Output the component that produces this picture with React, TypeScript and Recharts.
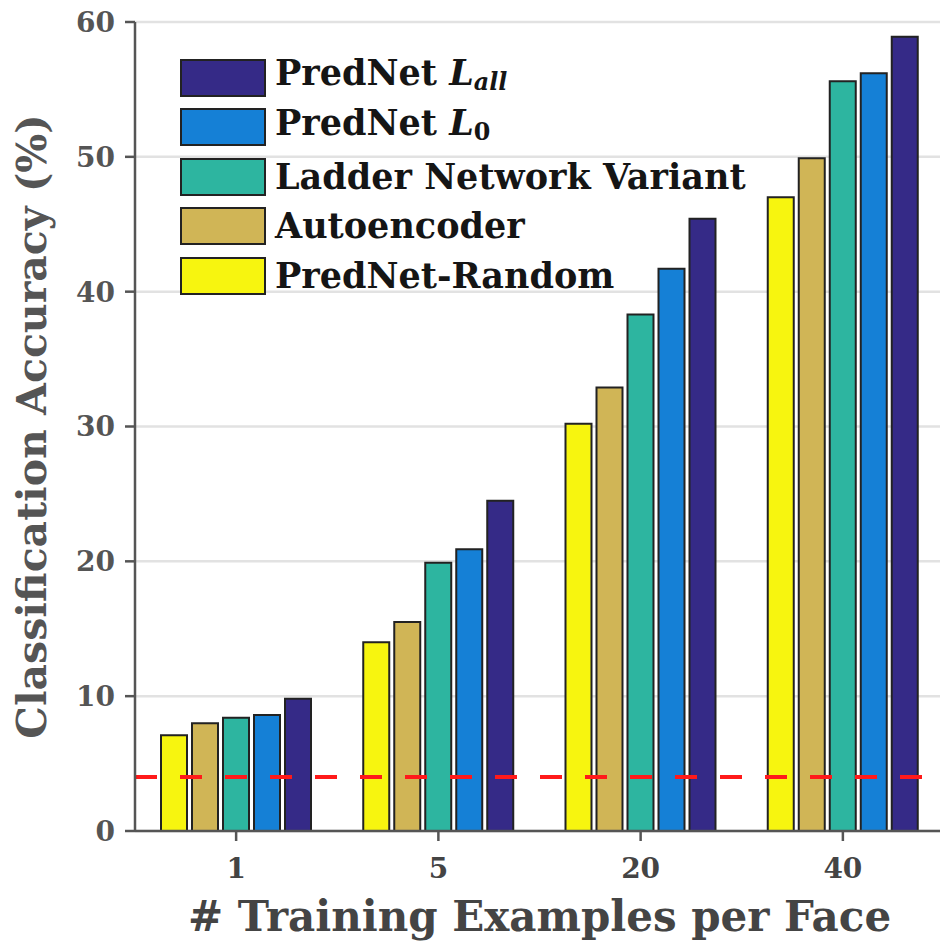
import React from 'react';
import { BarChart, Bar, XAxis, YAxis, CartesianGrid, ReferenceLine, Legend, Label } from 'recharts';

const categories = ['1', '5', '20', '40'];
const predNetRandom = [7.1, 14.0, 30.2, 47.0];
const autoencoder = [8.0, 15.5, 32.9, 49.9];
const ladderVariant = [8.4, 19.9, 38.3, 55.6];
const predNetL0 = [8.6, 20.9, 41.7, 56.2];
const predNetLall = [9.8, 24.5, 45.4, 58.9];
const chanceLevel = 4;
const yTicks = [0, 10, 20, 30, 40, 50, 60];

const data = categories.map((c, i) => ({
  cat: c,
  random: predNetRandom[i],
  auto: autoencoder[i],
  ladder: ladderVariant[i],
  l0: predNetL0[i],
  lall: predNetLall[i],
}));

const COLORS = {
  lall: '#352a87',
  l0: '#1580d6',
  ladder: '#2db5a0',
  auto: '#d0b556',
  random: '#f7f50f',
};

const FONT = '"DejaVu Serif", "Liberation Serif", serif';

const legendItems: { key: keyof typeof COLORS; label: React.ReactNode }[] = [
  { key: 'lall', label: <>PredNet <i>L</i><sub style={{ fontStyle: 'italic', fontSize: '0.68em', verticalAlign: '-0.2em' }}>all</sub></> },
  { key: 'l0', label: <>PredNet <i>L</i><sub style={{ fontSize: '0.68em', verticalAlign: '-0.2em' }}>0</sub></> },
  { key: 'ladder', label: <>Ladder Network Variant</> },
  { key: 'auto', label: <>Autoencoder</> },
  { key: 'random', label: <>PredNet-Random</> },
];

const LegendContent = () => (
  <div style={{ fontFamily: FONT, fontWeight: 'bold', fontSize: 35, color: '#151515' }}>
    {legendItems.map((it) => (
      <div key={it.key} style={{ display: 'flex', alignItems: 'center', height: 49.5 }}>
        <div
          style={{
            width: 82,
            height: 34,
            background: COLORS[it.key],
            border: '2px solid #222',
            marginRight: 9,
            flex: 'none',
          }}
        />
        <span style={{ lineHeight: '40px', whiteSpace: 'nowrap' }}>{it.label}</span>
      </div>
    ))}
  </div>
);

export default function App() {
  return (
    <div style={{ position: 'absolute', left: 0, top: 0, width: 940, height: 941, overflow: 'hidden', background: '#fff' }}>
      <BarChart
        width={944}
        height={941}
        data={data}
        margin={{ top: 22, right: 0, bottom: 0, left: 0 }}
        barSize={26}
        barGap={5}
      >
        <CartesianGrid horizontal vertical={false} stroke="#e2e2e2" strokeWidth={2.5} />
        <XAxis
          dataKey="cat"
          height={110}
          axisLine={{ stroke: '#555', strokeWidth: 2.5 }}
          tickLine={{ stroke: '#555', strokeWidth: 2.5 }}
          tickSize={10}
          tickMargin={17}
          tick={{ fontFamily: FONT, fontWeight: 'bold', fontSize: 28, fill: '#444' }}
        >
          <Label
            value="# Training Examples per Face"
            position="insideBottom"
            offset={10}
            style={{ fontFamily: FONT, fontWeight: 'bold', fontSize: 42, fill: '#444' }}
          />
        </XAxis>
        <YAxis
          width={135}
          domain={[0, 60]}
          ticks={yTicks}
          interval={0}
          axisLine={{ stroke: '#555', strokeWidth: 2.5 }}
          tickLine={{ stroke: '#555', strokeWidth: 2.5 }}
          tickSize={10}
          tickMargin={10}
          tick={{ fontFamily: FONT, fontWeight: 'bold', fontSize: 28, fill: '#555' }}
        >
          <Label
            value="Classification Accuracy (%)"
            angle={-90}
            position="insideLeft"
            offset={31}
            style={{ textAnchor: 'middle', fontFamily: FONT, fontWeight: 'bold', fontSize: 41, fill: '#555' }}
          />
        </YAxis>
        <Legend
          layout="horizontal"
          verticalAlign="middle"
          align="center"
          content={<LegendContent />}
          wrapperStyle={{ position: 'absolute', left: 180, top: 53, width: 'auto', height: 'auto' }}
        />
        <Bar dataKey="random" fill={COLORS.random} stroke="#222" strokeWidth={2} isAnimationActive={false} />
        <Bar dataKey="auto" fill={COLORS.auto} stroke="#222" strokeWidth={2} isAnimationActive={false} />
        <Bar dataKey="ladder" fill={COLORS.ladder} stroke="#222" strokeWidth={2} isAnimationActive={false} />
        <Bar dataKey="l0" fill={COLORS.l0} stroke="#222" strokeWidth={2} isAnimationActive={false} />
        <Bar dataKey="lall" fill={COLORS.lall} stroke="#222" strokeWidth={2} isAnimationActive={false} />
        <ReferenceLine y={chanceLevel} stroke="#ff1a1a" strokeWidth={4} strokeDasharray="22 23" />
      </BarChart>
    </div>
  );
}
